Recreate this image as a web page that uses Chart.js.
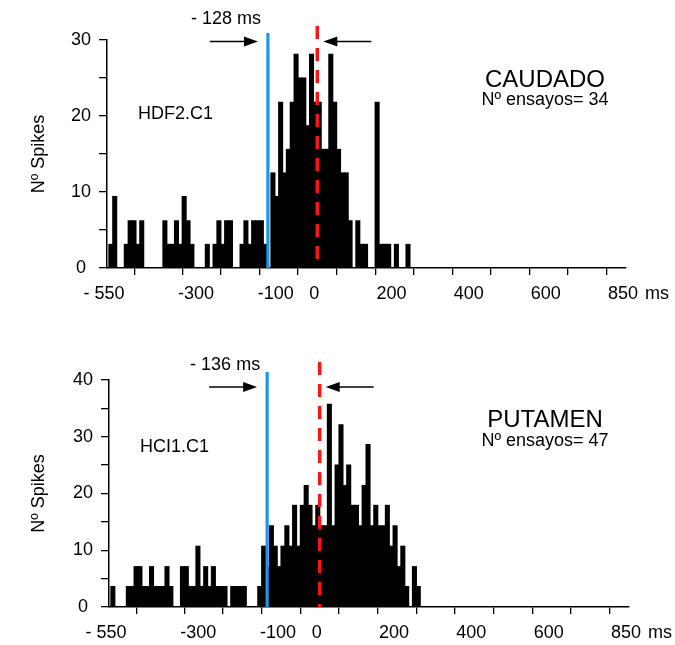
<!DOCTYPE html>
<html>
<head>
<meta charset="utf-8">
<script src="https://cdn.jsdelivr.net/npm/chart.js@4.4.1/dist/chart.umd.min.js"></script>
<style>
  html, body { margin: 0; padding: 0; background: #fff; }
  #wrap { position: relative; width: 675px; height: 645px; }
  canvas { position: absolute; left: 0; }
  #caudado { top: 0; }
  #putamen { top: 330px; }
</style>
</head>
<body>
<div id="wrap">
  <canvas id="caudado" width="675" height="330"></canvas>
  <canvas id="putamen" width="675" height="315"></canvas>
</div>
<script>
// 10 ms bins, first bin starts at -540 ms (time 0 = movement onset)
const BIN_MS = 10;
const FIRST_BIN = -540;
const X_MIN = -545;
const X_MAX = 800;

const xTickValues = [-545, -400, -300, -200, -100, 0, 100, 200, 300, 400, 500, 600, 700, 800];
const xTickLabels = ['- 550', '', '-300 ', '', '-100', '0', '', '200', '', '400', '', '600', '', '850'];

// caudate cell HDF2.C1, bins -540 .. 230
const spikesCaudado = [
  3.1, 9.4, 0, 0, 3.1, 6.2, 6.2, 3.1, 6.2, 0,
  0, 0, 0, 0, 6.2, 3.1, 3.1, 6.2, 3.1, 9.4,
  6.2, 3.1, 0, 0, 0, 3.1, 0, 3.1, 6.2, 3.1,
  6.2, 6.2, 0, 0, 3.1, 6.2, 3.1, 6.2, 6.2, 6.2,
  3.1, 0, 12.5, 9.4, 21.8, 12.5, 15.6, 21.8, 28.1, 25.0,
  25.0, 18.7, 28.1, 21.8, 21.8, 15.6, 15.6, 28.1, 21.8, 15.6,
  12.5, 12.5, 6.2, 0, 6.2, 3.1, 3.1, 0, 0, 21.8,
  3.1, 3.1, 3.1, 0, 3.1, 0, 0, 3.1
];

// putamen cell HCI1.C1, bins -540 .. 250
const spikesPutamen = [
  3.6, 0, 0, 0, 3.6, 3.6, 7.1, 7.1, 3.6, 3.6,
  7.1, 3.6, 3.6, 3.6, 7.1, 3.6, 0, 0, 7.1, 7.1,
  3.6, 3.6, 10.7, 3.6, 7.1, 3.6, 7.1, 3.6, 3.6, 3.6,
  0, 3.6, 3.6, 3.6, 3.6, 0, 0, 0, 3.6, 10.7,
  7.1, 14.3, 10.7, 7.1, 10.7, 14.3, 10.7, 17.9, 10.7, 17.9,
  21.4, 17.9, 14.3, 17.9, 14.3, 14.3, 35.7, 14.3, 25.0, 32.1,
  21.4, 25.0, 17.9, 17.9, 14.3, 21.4, 28.6, 14.3, 17.9, 14.3,
  14.3, 17.9, 10.7, 14.3, 7.1, 10.7, 3.6, 0, 7.1, 3.6
];

const onsetCaudado = -128;
const onsetPutamen = -136;
const trialsCaudado = 34;
const trialsPutamen = 47;

const FONT = '"Liberation Sans", Arial, Helvetica, sans-serif';
const BLUE = '#1b96ec';
const RED = '#ff1414';

function arrow(ctx, from, to, y) {
  const dir = Math.sign(to - from);
  ctx.beginPath();
  ctx.moveTo(from, y);
  ctx.lineTo(to - dir * 10, y);
  ctx.stroke();
  ctx.beginPath();
  ctx.moveTo(to, y);
  ctx.lineTo(to - dir * 14, y - 5);
  ctx.lineTo(to - dir * 14, y + 5);
  ctx.closePath();
  ctx.fill();
}

// onset markers, arrows and panel captions
const overlay = {
  id: 'overlay',
  afterDatasetsDraw(chart, args, o) {
    const { ctx, chartArea, scales: { x } } = chart;
    const xb = x.getPixelForValue(o.onset);
    const x0 = x.getPixelForValue(0);
    ctx.save();

    ctx.strokeStyle = BLUE;
    ctx.lineWidth = 3.2;
    ctx.beginPath();
    ctx.moveTo(xb, o.blueTop);
    ctx.lineTo(xb, chartArea.bottom);
    ctx.stroke();

    ctx.strokeStyle = RED;
    ctx.lineWidth = 3.5;
    ctx.setLineDash([13, 9]);
    ctx.beginPath();
    ctx.moveTo(x0, o.redTop);
    ctx.lineTo(x0, chartArea.bottom);
    ctx.stroke();
    ctx.setLineDash([]);

    ctx.strokeStyle = '#000';
    ctx.fillStyle = '#000';
    ctx.lineWidth = 1.6;
    arrow(ctx, xb - 58, xb - 10, o.arrowY);
    arrow(ctx, x0 + 54, x0 + 6, o.arrowY);

    ctx.textBaseline = 'middle';
    ctx.font = '18px ' + FONT;
    ctx.textAlign = 'right';
    ctx.fillText('- ' + Math.abs(o.onset) + ' ms', xb - 7, o.labelY);
    ctx.textAlign = 'left';
    ctx.fillText(o.cell, o.cellX, o.cellY);
    ctx.fillText('ms', x.getPixelForValue(X_MAX) + 19, x.top + 26);
    ctx.textAlign = 'center';
    ctx.fillText('Nº ensayos= ' + o.trials, 545, o.trialsY);
    ctx.font = '24px ' + FONT;
    ctx.fillText(o.area, 545, o.areaY);
    ctx.restore();
  }
};

function makeHistogram(id, values, cfg) {
  const points = values.map((v, i) => ({ x: FIRST_BIN + i * BIN_MS + BIN_MS / 2, y: v }));
  const tickFont = { family: FONT, size: 18 };
  return new Chart(document.getElementById(id), {
    type: 'bar',
    data: {
      datasets: [{
        data: points,
        backgroundColor: '#000',
        borderWidth: 0,
        barPercentage: 1,
        categoryPercentage: 1,
        inflateAmount: 0.6
      }]
    },
    options: {
      responsive: false,
      animation: false,
      events: [],
      layout: { padding: { top: cfg.padTop, right: cfg.padRight, left: 0, bottom: 0 } },
      plugins: {
        legend: { display: false },
        tooltip: { enabled: false },
        overlay: cfg.overlay
      },
      scales: {
        x: {
          type: 'linear',
          min: X_MIN,
          max: X_MAX,
          offset: false,
          afterBuildTicks: s => { s.ticks = xTickValues.map(v => ({ value: v })); },
          afterFit: s => { s.height = cfg.xAxisHeight; },
          grid: { drawOnChartArea: false, drawTicks: true, tickLength: 7, color: '#000', lineWidth: 1.3 },
          border: { display: true, color: '#000', width: 1.5 },
          ticks: {
            callback: (v, i) => xTickLabels[i],
            autoSkip: false,
            maxRotation: 0,
            padding: 8,
            labelOffset: -3,
            color: '#000',
            font: tickFont
          }
        },
        y: {
          min: 0,
          max: cfg.yMax,
          afterFit: s => { s.width = cfg.yAxisWidth; },
          grid: { drawOnChartArea: false, drawTicks: true, tickLength: 8, color: '#000', lineWidth: 1.3 },
          border: { display: true, color: '#000', width: 1.5 },
          ticks: {
            stepSize: 5,
            callback: v => (v % 10 === 0 ? v : ''),
            crossAlign: 'center',
            padding: 8,
            color: '#000',
            font: tickFont
          },
          title: {
            display: true,
            text: 'Nº Spikes',
            color: '#000',
            font: tickFont,
            padding: { top: 28, bottom: 0 }
          }
        }
      }
    },
    plugins: [overlay]
  });
}

makeHistogram('caudado', spikesCaudado, {
  yMax: 30, padTop: 40, padRight: 49, yAxisWidth: 107, xAxisHeight: 62,
  overlay: {
    onset: onsetCaudado, labelY: 19, blueTop: 33, redTop: 26, arrowY: 41.5,
    cell: 'HDF2.C1', cellX: 138, cellY: 114,
    area: 'CAUDADO', areaY: 80, trials: trialsCaudado, trialsY: 100
  }
});

makeHistogram('putamen', spikesPutamen, {
  yMax: 40, padTop: 50, padRight: 46, yAxisWidth: 109, xAxisHeight: 38,
  overlay: {
    onset: onsetPutamen, labelY: 35, blueTop: 42, redTop: 32, arrowY: 57,
    cell: 'HCI1.C1', cellX: 140, cellY: 117.5,
    area: 'PUTAMEN', areaY: 90, trials: trialsPutamen, trialsY: 111
  }
});
</script>
</body>
</html>
